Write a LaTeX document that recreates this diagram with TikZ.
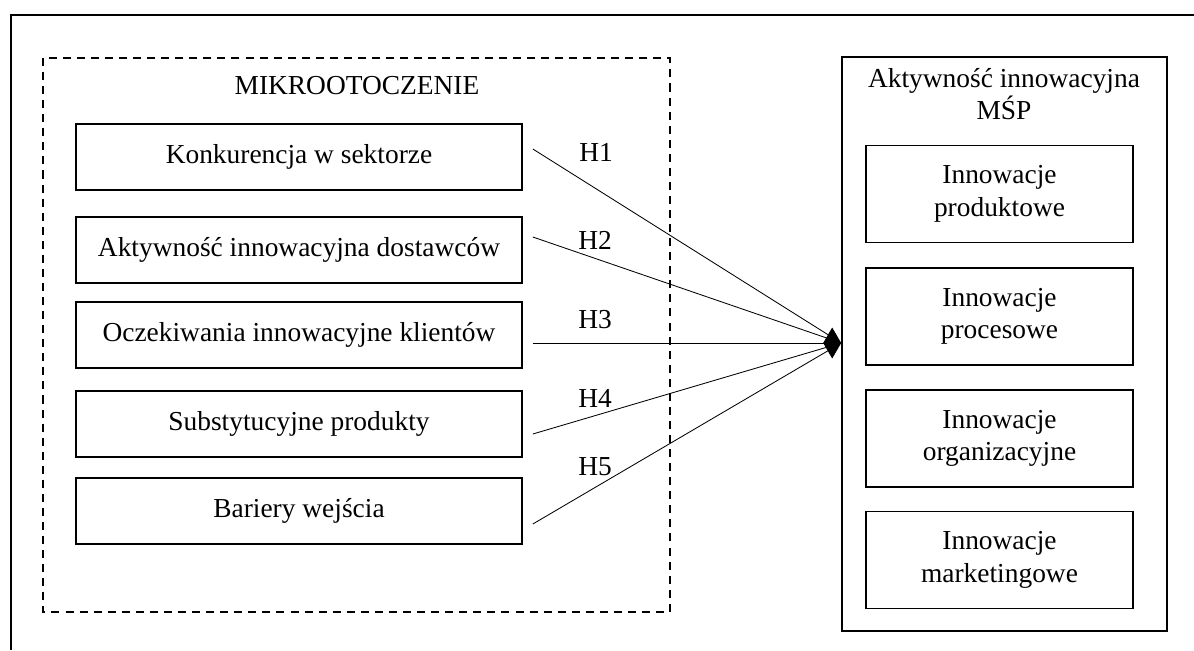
\documentclass[tikz,border=0pt]{standalone}
\usepackage{fontspec}
\setmainfont{Liberation Serif}
\usetikzlibrary{arrows.meta,calc}

\newcommand\boxfont{\fontsize{19.5}{23}\selectfont}

\begin{document}
\begin{tikzpicture}[x=0.025cm,y=-0.025cm,
    factor/.style={draw,line width=1.1pt,minimum width=11.15cm,
        minimum height=1.65cm,inner sep=0pt,font=\boxfont},
    kind/.style={draw,line width=1.1pt,minimum width=6.675cm,
        minimum height=2.425cm,inner sep=0pt,align=center,font=\boxfont},
    hyp/.style={font=\boxfont},
    link/.style={line width=0.6pt}]

\useasboundingbox (0,0) rectangle (1194,650);

% Frame along the top and left
\draw[line width=1.3pt]
    (11,650) -- (11,15) -- (1194,15);

% Micro-environment group
\draw[line width=1.3pt,dash pattern=on 5.7pt off 4.3pt]
    (43,58) rectangle (670,612);
\node[font=\boxfont] (micro) at (357,86) {MIKROOTOCZENIE};

\node[factor] (konk) at (299,157) {Konkurencja w sektorze};
\node[factor] (dost) at (299,250) {Aktywność innowacyjna dostawców};
\node[factor] (klient) at (299,335) {Oczekiwania innowacyjne klientów};
\node[factor] (subst) at (299,424) {Substytucyjne produkty};
\node[factor] (bar) at (299,511) {Bariery wejścia};

% Innovation activity of SMEs
\node[draw,line width=1.1pt,minimum width=8.125cm,minimum height=14.35cm,
    inner sep=0pt] (msp) at (1004.5,344) {};
\node[align=center,font=\boxfont] (msptitle) at (1004,94)
    {Aktywność innowacyjna\\MŚP};

\node[kind] (prod) at (999.5,194) {Innowacje\\produktowe};
\node[kind] (proc) at (999.5,316.5) {Innowacje\\procesowe};
\node[kind] (org) at (999.5,438.5) {Innowacje\\organizacyjne};
\node[kind] (mark) at (999.5,560) {Innowacje\\marketingowe};

% Hypotheses
\coordinate (hub) at (msp.west |- 0,343);
\coordinate (s1) at ($(konk.east)+(10,-8)$);
\coordinate (s2) at ($(dost.east)+(10,-13)$);
\coordinate (s3) at ($(klient.east)+(10,8)$);
\coordinate (s4) at ($(subst.east)+(10,10)$);
\coordinate (s5) at ($(bar.east)+(10,13)$);

\draw[link] (s1) -- (hub);
\draw[link] (s2) -- (hub);
\draw[link,-{Diamond[length=12.8pt,width=22pt]}] (s3) -- (hub);
\draw[link] (s4) -- (hub);
\draw[link] (s5) -- (hub);

\node[hyp] (h1) at (596,152) {H1};
\node[hyp] (h2) at (595,240) {H2};
\node[hyp] (h3) at (595,320) {H3};
\node[hyp] (h4) at (595,398) {H4};
\node[hyp] (h5) at (595,467) {H5};

\end{tikzpicture}
\end{document}
